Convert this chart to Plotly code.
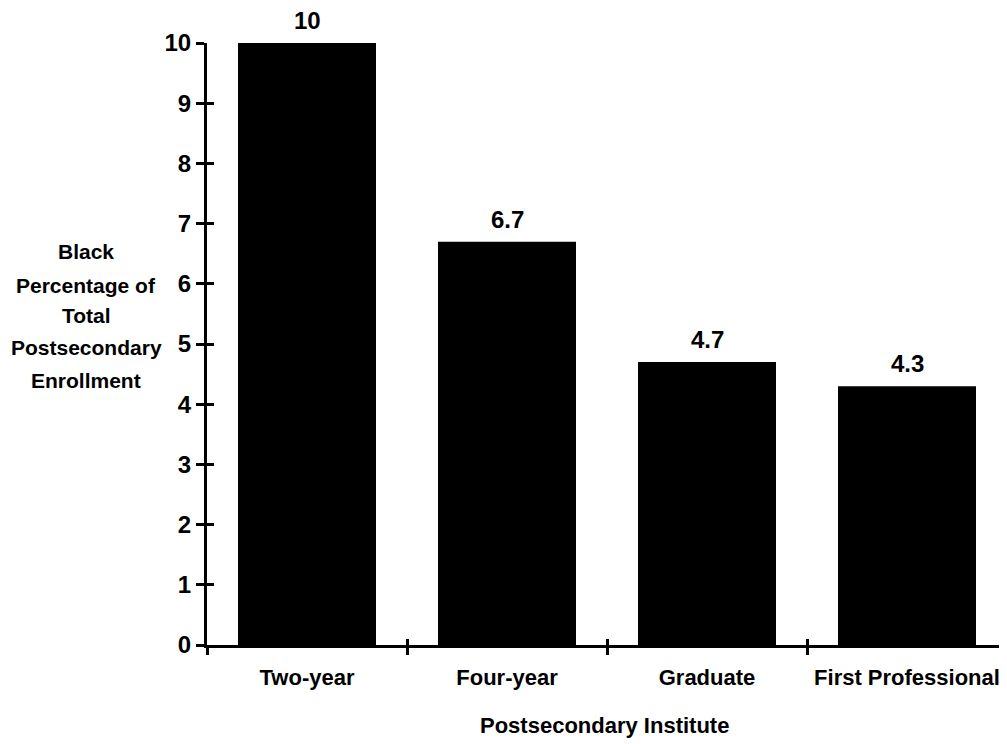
import plotly.graph_objects as go

categories = ["Two-year", "Four-year", "Graduate", "First Professional"]
values = [10, 6.7, 4.7, 4.3]
value_labels = ["10", "6.7", "4.7", "4.3"]
y_ticks = list(range(0, 11))
y_title_lines = ["Black", "Percentage of", "Total", "Postsecondary", "Enrollment"]
x_title = "Postsecondary Institute"

FONT = "Liberation Sans"

fig = go.Figure()
fig.add_trace(go.Bar(
    x=categories, y=values, width=0.69,
    marker=dict(color="black", line=dict(width=0)),
    hoverinfo="skip", showlegend=False,
))
# invisible twin on overlay axes to get ticks that cross the axis lines
fig.add_trace(go.Bar(
    x=categories, y=values, xaxis="x2", yaxis="y2", opacity=0,
    hoverinfo="skip", showlegend=False,
))

annotations = [
    dict(text=lab, x=cat, y=val, xref="x", yref="y", xanchor="center", yanchor="bottom",
         yshift=7, showarrow=False,
         font=dict(family=FONT, size=24, color="black", weight="bold"))
    for cat, val, lab in zip(categories, values, value_labels)
]
# y-axis title, one line per annotation to reproduce the wide line spacing
line_y = [0.653, 0.598, 0.548, 0.495, 0.440]
for txt, yy in zip(y_title_lines, line_y):
    annotations.append(dict(
        text=txt, xref="paper", yref="paper", x=-0.151, y=yy,
        xanchor="center", yanchor="middle", showarrow=False,
        font=dict(family=FONT, size=21, color="black", weight="bold")))
annotations.append(dict(
    text=x_title, xref="paper", yref="paper", x=0.497, y=-0.133,
    xanchor="center", yanchor="middle", showarrow=False,
    font=dict(family=FONT, size=22, color="black", weight="bold")))

fig.update_layout(
    width=1007, height=744,
    margin=dict(l=199, r=8, t=35, b=107, autoexpand=False),
    paper_bgcolor="white", plot_bgcolor="white",
    font=dict(family=FONT, size=22, color="black", weight="bold"),
    xaxis=dict(
        type="category", categoryarray=categories, range=[-0.5, 3.5], automargin=False,
        showline=True, linecolor="black", linewidth=3,
        ticks="outside", tickson="boundaries", ticklen=7, tickwidth=3, tickcolor="black",
        ticklabelstandoff=11,
        showgrid=False, zeroline=False,
        tickfont=dict(family=FONT, size=22, color="black", weight="bold"),
    ),
    yaxis=dict(
        range=[0, 10], tickvals=y_ticks, automargin=False,
        showline=True, linecolor="black", linewidth=3,
        ticks="outside", ticklen=8, tickwidth=3, tickcolor="black",
        showgrid=False, zeroline=False,
        tickfont=dict(family=FONT, size=24, color="black", weight="bold"),
    ),
    xaxis2=dict(
        type="category", categoryarray=categories, range=[-0.5, 3.5],
        overlaying="x", anchor="y2", automargin=False,
        showline=False, ticks="inside", tickson="boundaries", ticklen=6, tickwidth=3,
        tickcolor="black", showticklabels=False, showgrid=False, zeroline=False,
    ),
    yaxis2=dict(
        range=[0, 10], tickvals=y_ticks, overlaying="y", anchor="x2", automargin=False,
        showline=False, ticks="inside", ticklen=7, tickwidth=3,
        tickcolor="black", showticklabels=False, showgrid=False, zeroline=False,
    ),
    annotations=annotations,
)

fig.write_html("out.html")
